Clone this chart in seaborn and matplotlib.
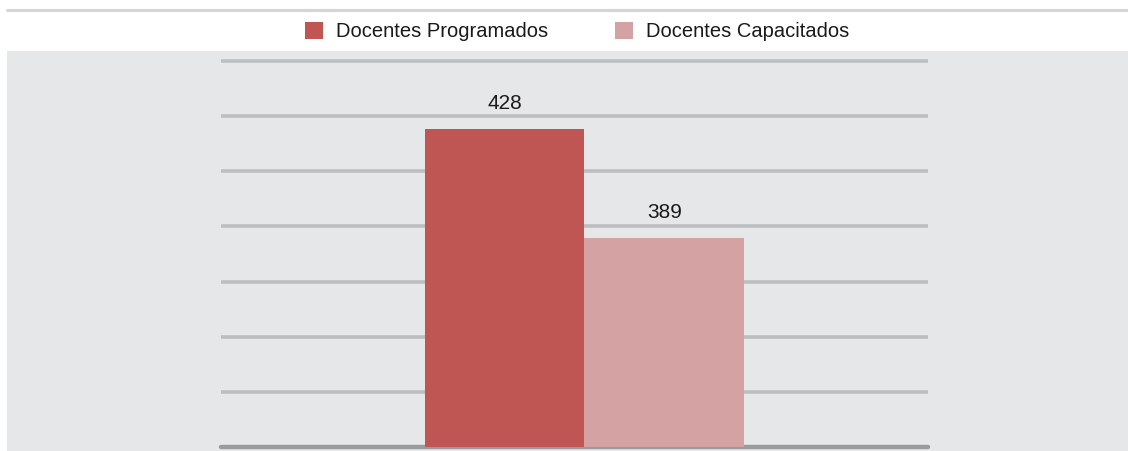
import matplotlib
matplotlib.use("Agg")
import matplotlib.pyplot as plt
import numpy as np
import pandas as pd
import seaborn as sns
from matplotlib.patches import Rectangle
from matplotlib.lines import Line2D

# data
series = ['Docentes Programados', 'Docentes Capacitados']
values = [428, 389]
colors = ['#BF5654', '#D4A2A3']

df = pd.DataFrame({'grupo': ['Docentes'] * 2, 'serie': series, 'valor': values})

sns.set_theme(style='white')
plt.rcParams['font.family'] = ['Liberation Sans', 'DejaVu Sans']

fig = plt.figure(figsize=(11.28, 4.51), dpi=100)
fig.patch.set_facecolor('white')

# gray panel and thin top rule
fig.add_artist(Rectangle((7 / 1128, 0), 1, (451 - 51) / 451, transform=fig.transFigure,
                         facecolor='#E6E7E9', edgecolor='none', zorder=0))
fig.add_artist(Line2D([7 / 1128, 1], [1 - 9.5 / 451] * 2, transform=fig.transFigure,
                      color='#D6D6D6', lw=2.2, zorder=1))

# axes one pixel taller than the top gridline so it isn't clipped
ax = fig.add_axes([221 / 1128, 4 / 451, 707 / 1128, (447 - 59) / 451])
ax.set_facecolor('none')

sns.barplot(data=df, x='grupo', y='valor', hue='serie', palette=colors,
            width=0.8, saturation=1, linewidth=0, ax=ax, zorder=3)

# y range so the bars land where they do in the reference
lo, hi = 314.2, 452.3
ax.set_ylim(lo, hi + 2 / 2.795)
ax.set_xlim(-0.909, 0.859)
ax.set_yticks(np.linspace(lo, hi, 8)[1:])
ax.grid(axis='y', color='#BDBEC0', lw=2.6, zorder=1)
ax.axhline(lo, color='#9A9B9D', lw=3.2, zorder=2, clip_on=False)
ax.tick_params(left=False, bottom=False, labelleft=False, labelbottom=False)
ax.set_xlabel('')
ax.set_ylabel('')
for s in ax.spines.values():
    s.set_visible(False)

for cont in ax.containers:
    for bar in cont:
        h = bar.get_height()
        ax.annotate(f'{h:.0f}', (bar.get_x() + bar.get_width() / 2, h),
                    xytext=(0, 11.5), textcoords='offset points',
                    ha='center', va='bottom', fontsize=15, color='#1A1A1A',
                    annotation_clip=False)

handles, labels = ax.get_legend_handles_labels()
ax.get_legend().remove()
fig.legend(handles, labels, loc='center', bbox_to_anchor=(0.5115, 1 - 31.5 / 451),
           ncol=2, frameon=False, fontsize=14.5, handlelength=0.9, handleheight=0.9,
           handletextpad=0.65, columnspacing=3.3, labelcolor='#1A1A1A')

fig.savefig('out.png', dpi=100)
